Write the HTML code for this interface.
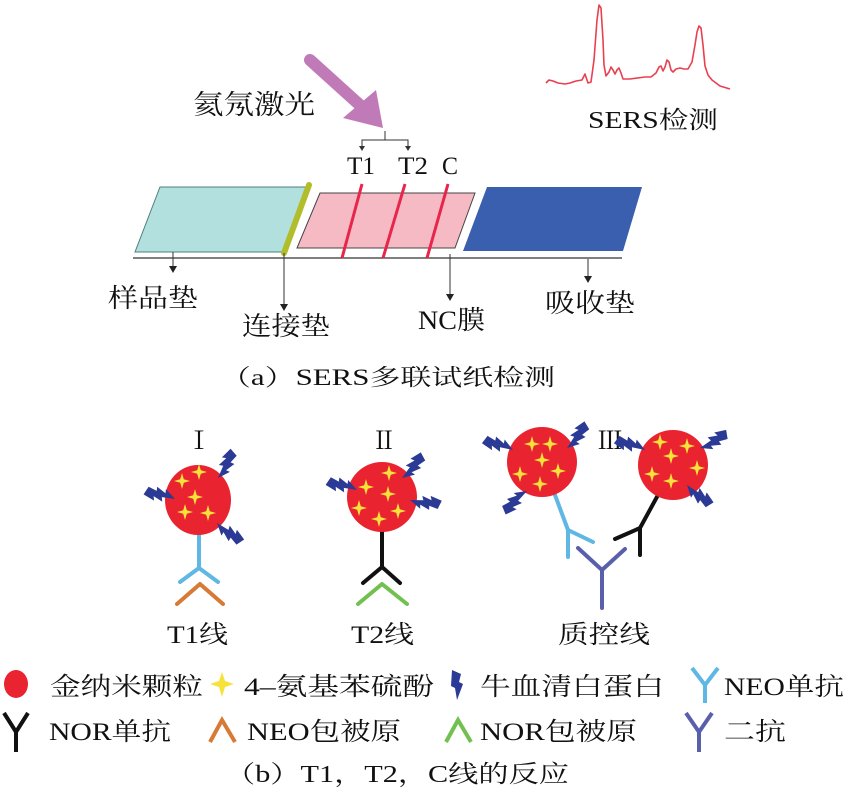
<!DOCTYPE html>
<html><head><meta charset="utf-8"><style>
html,body{margin:0;padding:0;background:#fff;}
svg{display:block;}
text{font-family:"Liberation Serif","Noto Serif CJK SC","Noto Sans CJK SC",serif;fill:#111;}
</style></head><body>
<svg width="846" height="796" viewBox="0 0 846 796" xmlns="http://www.w3.org/2000/svg">
<defs>
<path id="b" d="M0,0 L13,-3 L11,-7 L21,-5 L19,-9 L31,-7 L29,2 L20,1 L21,5 L11,2 L12,6 Z" fill="#2b3a94"/>
<path id="s" d="M0,-8 L1.8,-1.8 L8,0 L1.8,1.8 L0,8 L-1.8,1.8 L-8,0 L-1.8,-1.8 Z" fill="#f6e23a"/>
</defs>

<!-- SERS spectrum -->
<polyline points="546,83 549,80 553,81 558,83 565,84 570,83 576,81 582,80 584,76 585,74 586,77 588,83 591,82 594,60 597,20 599,5 601,8 603,40 604,65 606,76 609,72 611,67 613,70 615,74 617,70 619,68 621,73 623,79 630,79 645,77 651,77 656,73 659,67 661,66 663,71 665,67 667,60 669,62 671,70 673,72 676,69 680,68 684,69 688,69 692,62 695,45 697,32 699,26 701,28 703,45 705,66 708,75 712,80 720,86 730,89" fill="none" stroke="#e8404f" stroke-width="1.6" stroke-linejoin="round"/>
<text x="588" y="128" font-size="24" textLength="130" lengthAdjust="spacingAndGlyphs">SERS检测</text>

<!-- laser -->
<text x="193" y="114" font-size="27" textLength="122" lengthAdjust="spacingAndGlyphs" font-family="Liberation Sans,Noto Sans CJK SC,sans-serif">氦氖激光</text>
<line x1="310" y1="60" x2="362" y2="107" stroke="#c07ab8" stroke-width="12" stroke-linecap="round"/>
<path d="M343,118 L376,90 L383,128 Z" fill="#c07ab8"/>
<path d="M385,131 V140 M362,148 V140 H408 V148" stroke="#333" stroke-width="1" fill="none"/>
<path d="M359,146 L365,146 L362,151 Z M405,146 L411,146 L408,151 Z" fill="#333"/>
<text x="347" y="174" font-size="25" textLength="28" lengthAdjust="spacingAndGlyphs">T1</text>
<text x="398" y="174" font-size="25" textLength="30" lengthAdjust="spacingAndGlyphs">T2</text>
<text x="442" y="174" font-size="25" textLength="16" lengthAdjust="spacingAndGlyphs">C</text>

<!-- strip -->
<line x1="133" y1="258" x2="622" y2="258" stroke="#333" stroke-width="1.3"/>
<polygon points="160,187 308,187 283,252 135,252" fill="#b2e0df" stroke="#4f7f7d" stroke-width="1"/>
<line x1="309" y1="185" x2="284" y2="253" stroke="#b2bd2c" stroke-width="6" stroke-linecap="round"/>
<polygon points="320,193 475,193 455,248 297,248" fill="#f6bac5" stroke="#444" stroke-width="1"/>
<line x1="362" y1="184" x2="342" y2="258" stroke="#e8254a" stroke-width="3"/>
<line x1="405" y1="184" x2="383" y2="258" stroke="#e8254a" stroke-width="3"/>
<line x1="448" y1="184" x2="427" y2="258" stroke="#e8254a" stroke-width="3"/>
<polygon points="487,187 642,187 623,251 463,251" fill="#3a5fae"/>
<g stroke="#333" stroke-width="1">
<line x1="173" y1="252" x2="173" y2="268"/>
<line x1="284" y1="253" x2="284" y2="306"/>
<line x1="450" y1="254" x2="450" y2="296"/>
<line x1="588" y1="259" x2="588" y2="278"/>
</g>
<g fill="#222">
<path d="M169,266 L177,266 L173,273 Z"/><path d="M280,304 L288,304 L284,311 Z"/>
<path d="M446,294 L454,294 L450,301 Z"/><path d="M584,276 L592,276 L588,283 Z"/>
</g>
<text x="108" y="307" font-size="26" textLength="90" lengthAdjust="spacingAndGlyphs" font-family="Liberation Sans,Noto Sans CJK SC,sans-serif">样品垫</text>
<text x="242" y="335" font-size="26" textLength="88" lengthAdjust="spacingAndGlyphs" font-family="Liberation Sans,Noto Sans CJK SC,sans-serif">连接垫</text>
<text x="418" y="329" font-size="26" textLength="67" lengthAdjust="spacingAndGlyphs">NC膜</text>
<text x="545" y="312" font-size="26" textLength="90" lengthAdjust="spacingAndGlyphs" font-family="Liberation Sans,Noto Sans CJK SC,sans-serif">吸收垫</text>
<text x="220" y="385" font-size="23" textLength="335" lengthAdjust="spacingAndGlyphs">（a）SERS多联试纸检测</text>

<!-- part b labels -->
<text x="199" y="449" font-size="25" text-anchor="middle">Ⅰ</text>
<text x="384" y="449" font-size="25" text-anchor="middle">Ⅱ</text>
<text x="610" y="449" font-size="25" text-anchor="middle">Ⅲ</text>

<g stroke-width="4" fill="none" stroke-linecap="round" stroke-linejoin="round">
<path d="M199,530 V568 M180,582 L199,568 L218,582" stroke="#5fb7e4"/>
<path d="M177,604 L200,584 L223,604" stroke="#d67a35"/>
<path d="M382,530 V567 M363,583 L382,567 L400,583" stroke="#111"/>
<path d="M358,604 L382,584 L407,604" stroke="#72c04f"/>
<path d="M555,495 L568,530 M568,530 V557 M568,530 L593,542" stroke="#5fb7e4"/>
<path d="M658,495 L640,528 M640,528 L615,539 M640,528 L640,555" stroke="#111"/>
<path d="M602,608 V570 M578,548 L602,570 L625,549" stroke="#5a5fac"/>
</g>
<ellipse cx="198" cy="500" rx="33" ry="35" fill="#e9232f"/>
<ellipse cx="382" cy="497" rx="35" ry="35" fill="#e9232f"/>
<ellipse cx="542" cy="462" rx="35" ry="35" fill="#e9232f"/>
<ellipse cx="673" cy="465" rx="35" ry="35" fill="#e9232f"/>
<g>
<use href="#s" x="199" y="472"/><use href="#s" x="182" y="481"/><use href="#s" x="195" y="497"/><use href="#s" x="185" y="512"/><use href="#s" x="208" y="513"/>
<use href="#s" x="389" y="473"/><use href="#s" x="366" y="487"/><use href="#s" x="388" y="494"/><use href="#s" x="359" y="508"/><use href="#s" x="398" y="511"/><use href="#s" x="379" y="519"/>
<use href="#s" x="532" y="444"/><use href="#s" x="550" y="444"/><use href="#s" x="542" y="460"/><use href="#s" x="520" y="474"/><use href="#s" x="558" y="471"/><use href="#s" x="540" y="484"/>
<use href="#s" x="660" y="442"/><use href="#s" x="687" y="446"/><use href="#s" x="671" y="456"/><use href="#s" x="652" y="474"/><use href="#s" x="697" y="468"/><use href="#s" x="671" y="481"/>
</g>
<g>
<use href="#b" transform="translate(218,478) rotate(-54)"/>
<use href="#b" transform="translate(175,499) rotate(201)"/>
<use href="#b" transform="translate(217,523) rotate(44)"/>
<use href="#b" transform="translate(357,490) rotate(202)"/>
<use href="#b" transform="translate(402,478) rotate(-41)"/>
<use href="#b" transform="translate(410,500) rotate(14)"/>
<use href="#b" transform="translate(513,450) rotate(205)"/>
<use href="#b" transform="translate(567,448) rotate(-44)"/>
<use href="#b" transform="translate(527,491) rotate(145)"/>
<use href="#b" transform="translate(645,450) rotate(205)"/>
<use href="#b" transform="translate(700,448) rotate(-22)"/>
<use href="#b" transform="translate(687,485) rotate(46)"/>
</g>
<text x="167" y="643" font-size="25" textLength="61" lengthAdjust="spacingAndGlyphs">T1线</text>
<text x="351" y="643" font-size="25" textLength="63" lengthAdjust="spacingAndGlyphs">T2线</text>
<text x="558" y="643" font-size="25" textLength="92" lengthAdjust="spacingAndGlyphs">质控线</text>

<!-- legend -->
<ellipse cx="16" cy="684" rx="12" ry="14" fill="#e9232f"/>
<text x="50" y="695" font-size="25" textLength="153" lengthAdjust="spacingAndGlyphs">金纳米颗粒</text>
<path d="M222,672 L225,681 L234,684 L225,687 L222,697 L219,687 L210,684 L219,681 Z" fill="#f6e23a"/>
<text x="244" y="695" font-size="25" textLength="190" lengthAdjust="spacingAndGlyphs">4–氨基苯硫酚</text>
<path d="M452,670 L461,674 L459,682 L463,684 L457,700 L455,688 L451,686 Z" fill="#2b3a94"/>
<text x="480" y="695" font-size="25" textLength="184" lengthAdjust="spacingAndGlyphs">牛血清白蛋白</text>
<path d="M692,668 L705,685 L718,668 M705,685 V703" stroke="#5fb7e4" stroke-width="4" fill="none"/>
<text x="724" y="695" font-size="25" textLength="120" lengthAdjust="spacingAndGlyphs">NEO单抗</text>
<path d="M4,713 L16,732 L28,713 M16,732 V752" stroke="#111" stroke-width="4" fill="none"/>
<text x="49" y="740" font-size="25" textLength="122" lengthAdjust="spacingAndGlyphs">NOR单抗</text>
<path d="M210,742 L222,720 L235,742" stroke="#d67a35" stroke-width="4" fill="none"/>
<text x="247" y="740" font-size="25" textLength="154" lengthAdjust="spacingAndGlyphs">NEO包被原</text>
<path d="M446,742 L458,720 L471,742" stroke="#72c04f" stroke-width="4" fill="none"/>
<text x="480" y="740" font-size="25" textLength="157" lengthAdjust="spacingAndGlyphs">NOR包被原</text>
<path d="M686,713 L699,732 L712,713 M699,732 V752" stroke="#5a5fac" stroke-width="4" fill="none"/>
<text x="724" y="740" font-size="25" textLength="62" lengthAdjust="spacingAndGlyphs">二抗</text>
<text x="225" y="782" font-size="24" textLength="344" lengthAdjust="spacingAndGlyphs">（b）T1，T2，C线的反应</text>
</svg>
</body></html>
